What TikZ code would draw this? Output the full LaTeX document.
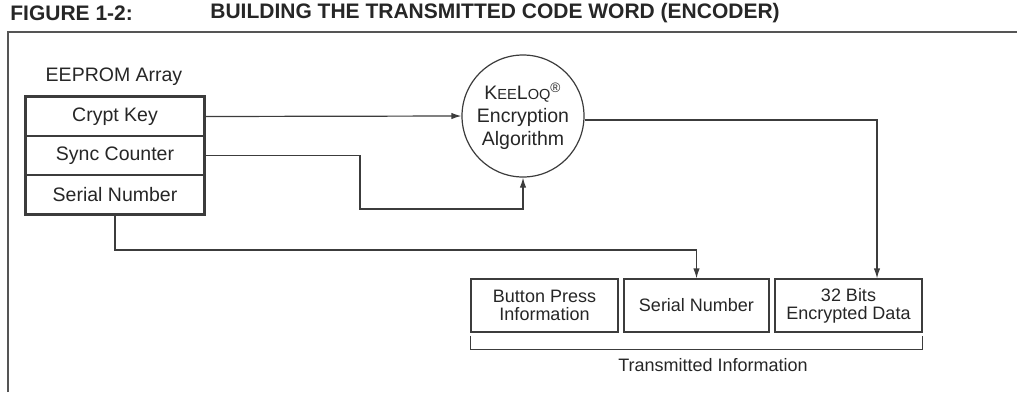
\documentclass[tikz,border=0pt]{standalone}
\usepackage{fontspec}
\setmainfont{Liberation Sans}
\usetikzlibrary{arrows.meta,positioning}
\definecolor{txt}{HTML}{262626}
\definecolor{ln}{HTML}{3C3C3C}
\definecolor{frm}{HTML}{555555}
\tikzset{
  row/.style={draw=ln,line width=0.9pt,minimum width=89pt,minimum height=19.5pt,inner sep=0pt,text=txt,font=\fontsize{9.75}{11}\selectfont},
  obox/.style={draw=ln,line width=0.6pt,minimum height=26.5pt,inner sep=0pt,text=txt,align=center,font=\fontsize{9}{9}\selectfont},
  conn/.style={draw=ln,line width=0.6pt},
  arr/.style={conn,-{Latex[length=5pt,width=3.2pt]}},
  lbl/.style={text=txt,inner sep=0pt}
}
\begin{document}
\begin{tikzpicture}[x=0.5pt,y=-0.5pt]
\useasboundingbox (0,0) rectangle (1017,392);
% frame
\draw[frm,line width=1pt] (8,392) -- (8,32) -- (1017,32);
% title
\node[lbl,anchor=west,font=\fontsize{10.5}{12}\selectfont\bfseries] (t1) at (10,13) {FIGURE 1-2:};
\node[lbl,anchor=west,font=\fontsize{10.5}{12}\selectfont\bfseries] (t2) at (210,13) {BUILDING THE TRANSMITTED CODE WORD (ENCODER)};
% EEPROM
\node[lbl,font=\fontsize{9.75}{11}\selectfont] (ee) at (114,77) {EEPROM Array};
\node[row] (ck) at (115,116.5) {Crypt Key};
\node[row] (sc) at (115,155.5) {Sync Counter};
\node[row] (sn) at (115,194.5) {Serial Number};
\draw[ln,line width=1.1pt] (ck.north west) rectangle (sn.south east);
% algorithm
\node[draw=ln,line width=0.6pt,circle,minimum size=61pt,inner sep=0pt,text=txt,align=center,font=\fontsize{9.75}{11.5}\selectfont] (alg) at (523,116)
 {K{\fontsize{7.3}{8}\selectfont EE}L{\fontsize{7.3}{8}\selectfont OQ}\textsuperscript{\textregistered}\\Encryption\\Algorithm};
% output boxes
\node[obox,minimum width=73.5pt] (bpi) at (544.5,305.5) {Button Press\\Information};
\node[obox,minimum width=72.5pt] (ser) at (696.5,305.5) {Serial Number};
\node[obox,minimum width=73.5pt] (enc) at (848.5,305.5) {32 Bits\\Encrypted Data};
% connectors
\draw[arr] (ck.east) -- (alg.west);
\coordinate (j1) at (360,209);
\draw[arr] (sc.east) -| (j1) -| (alg.south);
\draw[arr] ([yshift=-2pt]alg.east) -| ([xshift=14.25pt]enc.north);
\draw[arr] (sn.south) -- ++(0,35) -| (ser.north);
% bracket
\draw[conn] ([yshift=-1.5pt]bpi.south west) -- ([yshift=-8.5pt]bpi.south west) -| ([yshift=-1.5pt]enc.south east);
\node[lbl,font=\fontsize{9}{10}\selectfont] (ti) at (713,365) {Transmitted Information};
\end{tikzpicture}
\end{document}
